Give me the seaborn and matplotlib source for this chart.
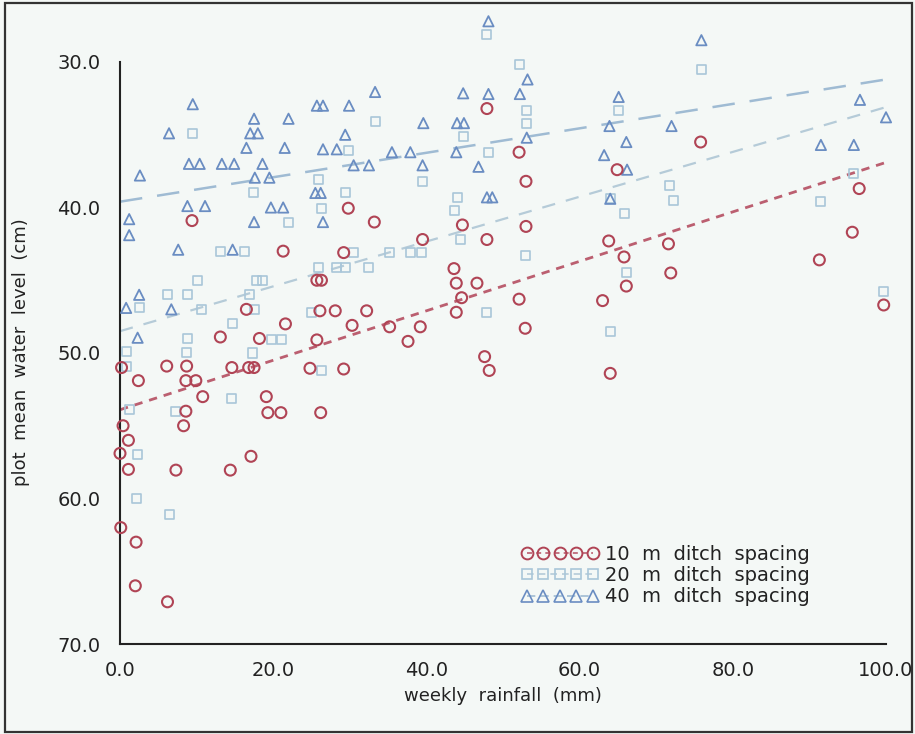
import numpy as np
import pandas as pd
import matplotlib
matplotlib.use("Agg")
import matplotlib.pyplot as plt
from matplotlib.lines import Line2D
from matplotlib.patches import Rectangle
from matplotlib.ticker import MultipleLocator, FormatStrFormatter
import seaborn as sns

# weekly rainfall (mm) vs plot mean water level (cm) for three ditch spacings
rain_10 = [0.0, 0.4, 1.1, 1.1, 0.1, 2.1, 2.0, 6.2, 0.2, 2.4,
           6.1, 8.7, 14.6, 16.8, 17.5, 24.8, 29.2,
           8.6, 9.9, 10.8, 19.1, 8.6, 19.3, 21.0, 26.2, 8.3, 17.1, 7.3, 14.4,
           16.5, 26.1, 28.1, 32.2, 21.6, 30.3, 35.2, 39.2, 37.6, 13.1, 18.2, 25.7,
           9.4, 29.8, 33.2, 21.3, 29.2, 25.7, 26.3,
           47.9, 52.1, 53.0, 44.7, 53.0, 39.5, 47.9, 43.6, 43.9, 46.6, 44.6, 52.1,
           43.9, 52.9, 47.6, 48.2,
           64.9, 63.8, 71.6, 65.8, 71.9, 66.1, 63.0, 64.0, 75.8, 96.5, 95.6, 91.3, 99.7]
level_10 = [56.9, 55.0, 56.0, 58.0, 62.0, 63.0, 66.0, 67.1, 51.0, 51.9,
            50.9, 50.9, 51.0, 51.0, 51.0, 51.05, 51.1,
            51.9, 51.9, 53.0, 53.0, 54.0, 54.1, 54.1, 54.1, 55.0, 57.1, 58.05, 58.05,
            47.0, 47.1, 47.1, 47.1, 48.0, 48.1, 48.2, 48.2, 49.2, 48.9, 49.0, 49.1,
            40.9, 40.05, 41.0, 43.0, 43.1, 45.0, 45.0,
            33.2, 36.2, 38.2, 41.2, 41.3, 42.2, 42.2, 44.2, 45.2, 45.2, 46.2, 46.3,
            47.2, 48.3, 50.25, 51.2,
            37.4, 42.3, 42.5, 43.4, 44.5, 45.4, 46.4, 51.4, 35.5, 38.7, 41.7, 43.6, 46.7]

rain_20 = [47.9, 52.2, 75.9, 53.1, 65.1, 33.3, 9.5, 53.1, 44.8, 29.8,
           48.1, 25.9, 39.5, 71.8, 95.7, 17.4, 29.4, 44.0, 64.0, 72.2,
           91.5, 26.3, 43.7, 65.9, 22.0, 13.1, 16.3, 30.5, 35.2, 37.9,
           39.4, 44.4, 52.9, 25.9, 28.3, 29.4, 32.4, 66.1, 10.1, 17.8,
           18.6, 99.7, 6.2, 8.8, 16.9, 2.5, 10.7, 17.5, 25.0, 47.9,
           14.7, 64.0, 8.8, 19.8, 21.1, 0.9, 8.7, 17.3, 0.9, 26.3,
           14.5, 1.2, 7.3, 2.3, 2.1, 6.4]
level_20 = [28.1, 30.2, 30.5, 33.3, 33.3, 34.1, 34.9, 34.2, 35.1, 36.05,
            36.2, 38.1, 38.2, 38.5, 37.65, 39.0, 39.0, 39.3, 39.4, 39.5,
            39.6, 40.05, 40.2, 40.4, 41.0, 43.0, 43.0, 43.1, 43.1, 43.1,
            43.1, 42.2, 43.3, 44.1, 44.1, 44.1, 44.1, 44.5, 45.0, 45.0,
            45.0, 45.8, 46.0, 46.0, 46.0, 46.9, 47.0, 47.0, 47.2, 47.2,
            48.0, 48.5, 49.0, 49.1, 49.1, 49.9, 49.95, 50.0, 50.9, 51.2,
            53.1, 53.9, 54.0, 57.0, 60.0, 61.1]

rain_40 = [48.1, 75.9, 53.2, 33.3, 44.8, 48.1, 52.2, 65.1, 96.6, 9.5,
           25.7, 26.5, 29.9, 100.0, 17.5, 22.0, 39.6, 44.0, 44.9, 63.9,
           72.0, 6.4, 17.0, 18.0, 29.4, 53.1, 66.1, 91.5, 95.8, 16.5,
           21.5, 26.5, 28.3, 35.5, 37.9, 43.9, 63.2, 9.0, 10.4, 13.3,
           14.9, 18.6, 30.5, 32.5, 39.5, 46.8, 66.2, 2.6, 17.6, 19.5,
           25.5, 26.2, 47.9, 48.6, 64.0, 8.8, 11.1, 19.7, 21.3, 1.2,
           17.5, 26.5, 1.2, 7.6, 14.7, 2.5, 0.8, 6.7, 2.3]
level_40 = [27.2, 28.5, 31.2, 32.06, 32.15, 32.2, 32.2, 32.4, 32.6, 32.9,
            33.0, 33.0, 33.0, 33.8, 33.9, 33.9, 34.2, 34.2, 34.2, 34.4,
            34.4, 34.9, 34.9, 34.9, 35.0, 35.2, 35.5, 35.7, 35.7, 35.9,
            35.9, 36.0, 36.0, 36.2, 36.2, 36.2, 36.4, 37.0, 37.0, 37.0,
            37.0, 37.0, 37.1, 37.1, 37.1, 37.2, 37.4, 37.8, 37.95, 37.95,
            39.0, 39.0, 39.3, 39.3, 39.4, 39.9, 39.9, 40.0, 40.0, 40.8,
            41.0, 41.0, 41.9, 42.9, 42.9, 46.0, 46.9, 47.0, 48.95]

# fitted regression lines (level at 0 and 100 mm rainfall)
fit_rain = [0.0, 100.0]
fit_10 = [53.9, 36.9]
fit_20 = [48.5, 33.1]
fit_40 = [39.6, 31.2]

labels = ["10  m  ditch  spacing", "20  m  ditch  spacing", "40  m  ditch  spacing"]

df = pd.concat([
    pd.DataFrame({"rain": rain_10, "level": level_10, "spacing": labels[0]}),
    pd.DataFrame({"rain": rain_20, "level": level_20, "spacing": labels[1]}),
    pd.DataFrame({"rain": rain_40, "level": level_40, "spacing": labels[2]}),
])

sns.set_theme(style="white")
plt.rcParams["font.family"] = ["DejaVu Sans"]

bg = "#f4f8f6"
ink = "#222222"
c10, c20, c40 = "#b04455", "#a9c6d9", "#6a8dc2"
line10, line20, line40 = "#bb5f70", "#b5cbd8", "#9fbbd3"

W, H = 915, 734
fig = plt.figure(figsize=(W / 100, H / 100), dpi=100, facecolor=bg)
ax_left, ax_right, ax_bottom, ax_top = 120, 886, 644, 15
ax = fig.add_axes([ax_left / W, 1 - ax_bottom / H,
                   (ax_right - ax_left) / W, (ax_bottom - ax_top) / H])
ax.set_facecolor(bg)

# regression lines
ax.plot(fit_rain, fit_40, color=line40, lw=1.8, dashes=(9, 6), zorder=1)
ax.plot(fit_rain, fit_20, color=line20, lw=1.6, dashes=(6, 5), zorder=1)
ax.plot(fit_rain, fit_10, color=line10, lw=2.0, dashes=(3, 2.5), zorder=1)

styles = {
    labels[0]: dict(marker="o", s=62, edgecolor=c10, linewidth=1.5),
    labels[1]: dict(marker="s", s=42, edgecolor=c20, linewidth=1.2),
    labels[2]: dict(marker="^", s=55, edgecolor=c40, linewidth=1.3),
}
for lab in [labels[1], labels[2], labels[0]]:
    sub = df[df["spacing"] == lab]
    sns.scatterplot(data=sub, x="rain", y="level", ax=ax, facecolor="none",
                    legend=False, clip_on=False, zorder=3, **styles[lab])

ax.set_xlim(0, 100)
ymin_top = 70 - (ax_bottom - ax_top) / 14.55
ax.set_ylim(70, ymin_top)

for side in ["top", "right"]:
    ax.spines[side].set_visible(False)
for side in ["left", "bottom"]:
    ax.spines[side].set_color(ink)
    ax.spines[side].set_linewidth(1.5)
ax.spines["left"].set_bounds(70, 30)

ax.set_yticks([30, 40, 50, 60, 70])
ax.yaxis.set_minor_locator(MultipleLocator(1))
ax.xaxis.set_major_locator(MultipleLocator(20))
ax.xaxis.set_minor_locator(MultipleLocator(2))
ax.xaxis.set_major_formatter(FormatStrFormatter("%.1f"))
ax.yaxis.set_major_formatter(FormatStrFormatter("%.1f"))
ax.tick_params(axis="both", which="major", direction="out", length=8, width=1.3,
               color=ink, labelsize=14, labelcolor=ink, pad=5)
ax.tick_params(axis="both", which="minor", direction="out", length=5, width=1.2,
               color=ink)
ax.tick_params(axis="x", which="major", pad=4)
ax.tick_params(axis="y", which="major", pad=6)

ax.set_xlabel("weekly  rainfall  (mm)", fontsize=13, color=ink)
ax.set_ylabel("plot  mean  water  level  (cm)", fontsize=13, color=ink)
ax.xaxis.set_label_coords(0.5, -0.068)
ax.yaxis.set_label_coords(-0.117, 0.464)

handles = [
    Line2D([], [], color=line10, lw=1.2, dashes=(3, 2.5), marker="o", ms=8.5,
           mfc="none", mec=c10, mew=1.4),
    Line2D([], [], color=line20, lw=1.2, dashes=(4, 3), marker="s", ms=7,
           mfc="none", mec=c20, mew=1.2),
    Line2D([], [], color=line40, lw=1.2, dashes=(5, 3), marker="^", ms=8,
           mfc="none", mec=c40, mew=1.2),
]
ax.legend(handles, labels, loc="upper left", frameon=False, numpoints=5,
          handlelength=4.0, handletextpad=0.35, labelspacing=0.12,
          borderpad=0, fontsize=14, labelcolor=ink,
          bbox_to_anchor=(511 / W, 1 - 535 / H), bbox_transform=fig.transFigure)

fig.patches.append(Rectangle((5 / W, 2 / H), 907 / W, 729 / H,
                             transform=fig.transFigure, fill=False,
                             edgecolor="#333333", lw=1.6))

fig.savefig("out.png", dpi=100, facecolor=bg)
